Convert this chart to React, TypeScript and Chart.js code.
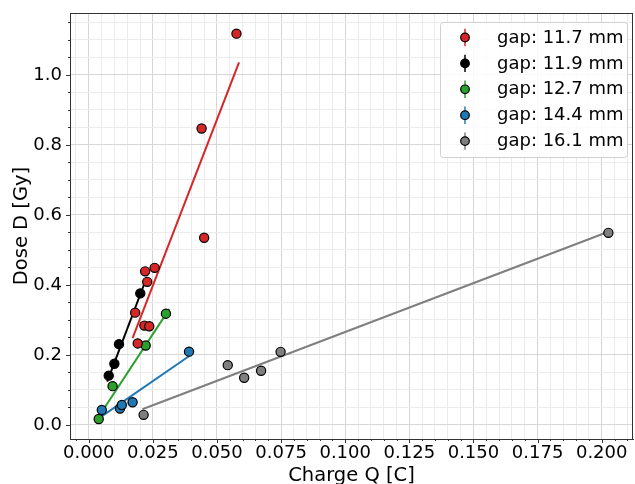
import React, { useEffect, useRef } from 'react';
import { Chart, registerables } from 'chart.js';

Chart.register(...registerables);

// ---- data ----
const seriesLabels = ['gap: 11.7 mm', 'gap: 11.9 mm', 'gap: 12.7 mm', 'gap: 14.4 mm', 'gap: 16.1 mm'];
const seriesColors = ['#d62728', '#000000', '#2ca02c', '#1f77b4', '#7f7f7f'];

const q117 = [0.0181, 0.0191, 0.0217, 0.0236, 0.0220, 0.0228, 0.0257, 0.0440, 0.0450, 0.0576];
const d117 = [0.321, 0.233, 0.284, 0.282, 0.439, 0.409, 0.449, 0.847, 0.535, 1.118];
const q119 = [0.0078, 0.0100, 0.0118, 0.0201];
const d119 = [0.141, 0.175, 0.231, 0.376];
const q127 = [0.0039, 0.0093, 0.0222, 0.0301];
const d127 = [0.017, 0.111, 0.227, 0.318];
const q144 = [0.0051, 0.0122, 0.0129, 0.0171, 0.0391];
const d144 = [0.043, 0.047, 0.057, 0.065, 0.2095];
const q161 = [0.0214, 0.0542, 0.0606, 0.0672, 0.0748, 0.2026];
const d161 = [0.029, 0.171, 0.135, 0.155, 0.209, 0.549];

// fitted lines (endpoints)
const fitQ117 = [0.0171, 0.0586];
const fitD117 = [0.248, 1.036];
const fitQ119 = [0.0072, 0.0215];
const fitD119 = [0.124, 0.400];
const fitQ127 = [0.0047, 0.0314];
const fitD127 = [0.033, 0.331];
const fitQ144 = [0.0049, 0.0392];
const fitD144 = [0.024, 0.197];
const fitQ161 = [0.0209, 0.2026];
const fitD161 = [0.045, 0.552];

const xMajorStep = 0.025;
const xMinorStep = 0.005;
const yMajorStep = 0.2;
const yMinorStep = 0.05;

const pointsQ = [q117, q119, q127, q144, q161];
const pointsD = [d117, d119, d127, d144, d161];
const fitsQ = [fitQ117, fitQ119, fitQ127, fitQ144, fitQ161];
const fitsD = [fitD117, fitD119, fitD127, fitD144, fitD161];

const zip = (xs: number[], ys: number[]) => xs.map((x, i) => ({ x, y: ys[i] }));
const isMajor = (v: number, step: number) => Math.abs(v / step - Math.round(v / step)) < 1e-6;

const FONT = 'DejaVu Sans';

const framePlugin = {
  id: 'frameAndTicks',
  afterDraw(chart: any) {
    const { ctx, chartArea } = chart;
    const xs = chart.scales.x;
    const ys = chart.scales.y;
    ctx.save();
    // ticks
    ctx.strokeStyle = '#333333';
    ctx.lineWidth = 1;
    xs.ticks.forEach((t: any) => {
      const px = Math.round(xs.getPixelForValue(t.value)) + 0.5;
      const len = isMajor(t.value, xMajorStep) ? 4 : 2;
      ctx.beginPath();
      ctx.moveTo(px, chartArea.bottom);
      ctx.lineTo(px, chartArea.bottom + len);
      ctx.stroke();
    });
    ys.ticks.forEach((t: any) => {
      const py = Math.round(ys.getPixelForValue(t.value)) + 0.5;
      const len = isMajor(t.value, yMajorStep) ? 4 : 2;
      ctx.beginPath();
      ctx.moveTo(chartArea.left, py);
      ctx.lineTo(chartArea.left - len, py);
      ctx.stroke();
    });
    // frame top/right
    ctx.beginPath();
    ctx.moveTo(chartArea.left, chartArea.top + 0.5);
    ctx.lineTo(chartArea.right, chartArea.top + 0.5);
    ctx.moveTo(chartArea.right - 0.5, chartArea.top);
    ctx.lineTo(chartArea.right - 0.5, chartArea.bottom);
    ctx.stroke();

    // legend
    const boxW = 187;
    const boxH = 135;
    const bx = chartArea.right - 5.5 - boxW;
    const by = chartArea.top + 9.5;
    ctx.beginPath();
    if (ctx.roundRect) ctx.roundRect(bx, by, boxW, boxH, 3);
    else ctx.rect(bx, by, boxW, boxH);
    ctx.fillStyle = 'rgba(255,255,255,0.85)';
    ctx.fill();
    ctx.strokeStyle = '#d0d0d0';
    ctx.lineWidth = 1;
    ctx.stroke();
    const mx = bx + 24.5;
    const tx = bx + 56.5;
    seriesLabels.forEach((lab, i) => {
      const cy = by + 15 + i * 25.9;
      ctx.strokeStyle = seriesColors[i];
      ctx.lineWidth = 1.5;
      ctx.beginPath();
      ctx.moveTo(mx, cy - 8.7);
      ctx.lineTo(mx, cy + 8.7);
      ctx.stroke();
      ctx.beginPath();
      ctx.arc(mx, cy, 4.3, 0, Math.PI * 2);
      ctx.fillStyle = seriesColors[i];
      ctx.fill();
      ctx.strokeStyle = '#000000';
      ctx.lineWidth = 1.2;
      ctx.stroke();
      ctx.fillStyle = '#000000';
      ctx.font = `18px "${FONT}"`;
      ctx.textAlign = 'left';
      ctx.textBaseline = 'middle';
      ctx.fillText(lab, tx, cy + 0.5);
    });
    ctx.restore();
  },
};

export default function App() {
  const ref = useRef<HTMLCanvasElement | null>(null);

  useEffect(() => {
    if (!ref.current) return;
    const datasets: any[] = [];
    seriesLabels.forEach((lab, i) => {
      datasets.push({
        label: lab + ' fit',
        data: zip(fitsQ[i], fitsD[i]),
        showLine: true,
        borderColor: seriesColors[i],
        borderWidth: 2,
        pointRadius: 0,
        fill: false,
        order: 2,
      });
    });
    seriesLabels.forEach((lab, i) => {
      datasets.push({
        label: lab,
        data: zip(pointsQ[i], pointsD[i]),
        showLine: false,
        backgroundColor: seriesColors[i],
        borderColor: '#000000',
        pointBorderColor: '#000000',
        pointBackgroundColor: seriesColors[i],
        pointRadius: 4.6,
        pointBorderWidth: 1.2,
        order: 1,
      });
    });

    const gridColor = (c: any, step: number) => {
      const v = c.tick ? c.tick.value : 0;
      return isMajor(v, step) ? '#d6d6d6' : '#ececec';
    };

    const chart = new Chart(ref.current, {
      type: 'scatter',
      data: { datasets },
      plugins: [framePlugin],
      options: {
        animation: false,
        responsive: false,
        events: [],
        layout: { padding: { top: 13, right: 2, left: 0, bottom: 0 }, autoPadding: false },
        plugins: {
          legend: { display: false },
          tooltip: { enabled: false },
        },
        scales: {
          x: {
            type: 'linear',
            min: -0.0073,
            max: 0.2122,
            afterFit: (s: any) => {
              s.height = 45;
              s.paddingLeft = 0;
              s.paddingRight = 0;
            },
            border: { display: true, color: '#333333', width: 1 },
            grid: {
              color: (c: any) => gridColor(c, xMajorStep),
              lineWidth: 1,
              drawTicks: true,
              tickLength: 4,
              tickColor: 'rgba(0,0,0,0)',
            },
            ticks: {
              stepSize: xMinorStep,
              includeBounds: false,
              autoSkip: false,
              maxRotation: 0,
              minRotation: 0,
              maxTicksLimit: 1000,
              padding: 0,
              color: '#000000',
              font: { family: FONT, size: 18 },
              callback: (v: any) => (isMajor(Number(v), xMajorStep) ? Number(v).toFixed(3) : ''),
            },
            title: {
              display: true,
              text: 'Charge Q [C]',
              color: '#000000',
              font: { family: FONT, size: 19.5 },
              padding: { top: 0, bottom: -4 },
            },
          },
          y: {
            type: 'linear',
            min: -0.04,
            max: 1.177,
            afterFit: (s: any) => {
              s.width = 70;
              s.paddingTop = 0;
              s.paddingBottom = 0;
            },
            border: { display: true, color: '#333333', width: 1 },
            grid: {
              color: (c: any) => gridColor(c, yMajorStep),
              lineWidth: 1,
              drawTicks: true,
              tickLength: 4,
              tickColor: 'rgba(0,0,0,0)',
            },
            ticks: {
              stepSize: yMinorStep,
              includeBounds: false,
              autoSkip: false,
              maxTicksLimit: 1000,
              padding: 4,
              color: '#000000',
              font: { family: FONT, size: 18 },
              callback: (v: any) => (isMajor(Number(v), yMajorStep) ? Number(v).toFixed(1) : ''),
            },
            title: {
              display: true,
              text: 'Dose D [Gy]',
              color: '#000000',
              font: { family: FONT, size: 19.5 },
              padding: { top: 10, bottom: 0 },
            },
          },
        },
      },
    } as any);
    return () => chart.destroy();
  }, []);

  return (
    <div style={{ position: 'fixed', left: 0, top: 0, width: 635, height: 484, background: '#ffffff' }}>
      <canvas ref={ref} width={635} height={484} style={{ display: 'block', width: 635, height: 484 }} />
    </div>
  );
}
